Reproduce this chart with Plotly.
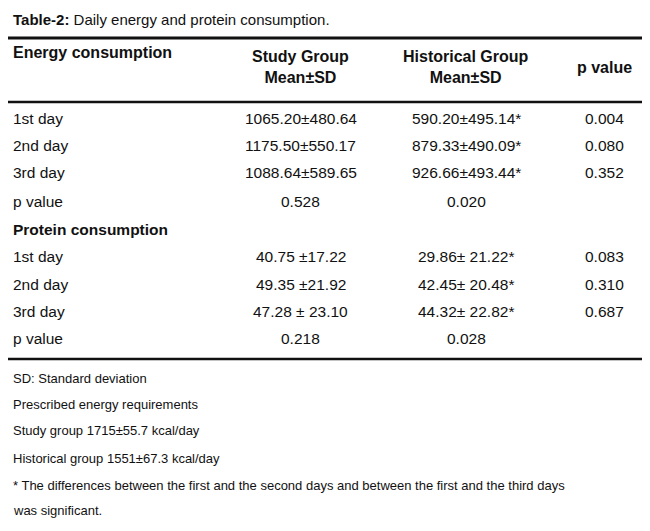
import plotly.graph_objects as go

title_bold = "Table-2:"
title_rest = " Daily energy and protein consumption."
headers = ["Energy consumption", "Study Group<br>Mean±SD", "Historical Group<br>Mean±SD", "p value"]
row_labels = ["1st day", "2nd day", "3rd day", "p value", "Protein consumption",
              "1st day", "2nd day", "3rd day", "p value"]
study = ["1065.20±480.64", "1175.50±550.17", "1088.64±589.65", "0.528", "",
         "40.75 ±17.22", "49.35 ±21.92", "47.28 ± 23.10", "0.218"]
historical = ["590.20±495.14*", "879.33±490.09*", "926.66±493.44*", "0.020", "",
              "29.86± 21.22*", "42.45± 20.48*", "44.32± 22.82*", "0.028"]
pvals = ["0.004", "0.080", "0.352", "", "", "0.083", "0.310", "0.687", ""]
footnotes = ["SD: Standard deviation", "Prescribed energy requirements",
             "Study group 1715±55.7 kcal/day", "Historical group 1551±67.3 kcal/day",
             "* The differences between the first and the second days and between the first and the third days",
             "was significant."]

FONT = "Liberation Sans, Arial, sans-serif"
row_y = [114, 142, 170, 199, 228, 256, 285, 313, 341]
foot_y = [382, 409, 436, 464, 492, 518]
col_x = [300, 470, 612]

fig = go.Figure()
ann = []
def add(x, y, text, anchor="center", bold=False, size=15):
    ann.append(dict(x=x, y=y, text=("<b>%s</b>" % text) if bold else text, showarrow=False,
                    xanchor=anchor, yanchor="middle", font=dict(family=FONT, size=size, color="#111")))

add(3, 12, "<b>%s</b>%s" % (title_bold, title_rest), "left")
add(3, 46, headers[0], "left", bold=True, size=16)
for x, h in zip(col_x, headers[1:]):
    ann.append(dict(x=x, y=61, text="<b>%s</b>" % h, showarrow=False, xanchor="center", yanchor="middle",
                    font=dict(family=FONT, size=16, color="#111")))
for i, y in enumerate(row_y):
    add(3, y, row_labels[i], "left", bold=(row_labels[i] == "Protein consumption"), size=15.5)
    for x, v in zip(col_x, [study[i], historical[i], pvals[i]]):
        if v:
            add(x, y, v, size=15.5)
for y, t in zip(foot_y, footnotes):
    add(3, y, t, "left", size=13)

for y, w in [(31, 3), (97, 2.5), (362, 2.5)]:
    fig.add_shape(type="line", x0=0, x1=650, y0=y, y1=y, line=dict(color="#111", width=w))

# page body adds an 8px margin, so shrink the figure to fit the window
fig.update_layout(width=634, height=515, margin=dict(l=0, r=0, t=0, b=0),
                  paper_bgcolor="white", plot_bgcolor="white", annotations=ann,
                  xaxis=dict(range=[0, 650], visible=False),
                  yaxis=dict(range=[531, 0], visible=False))
fig.write_html("out.html")
